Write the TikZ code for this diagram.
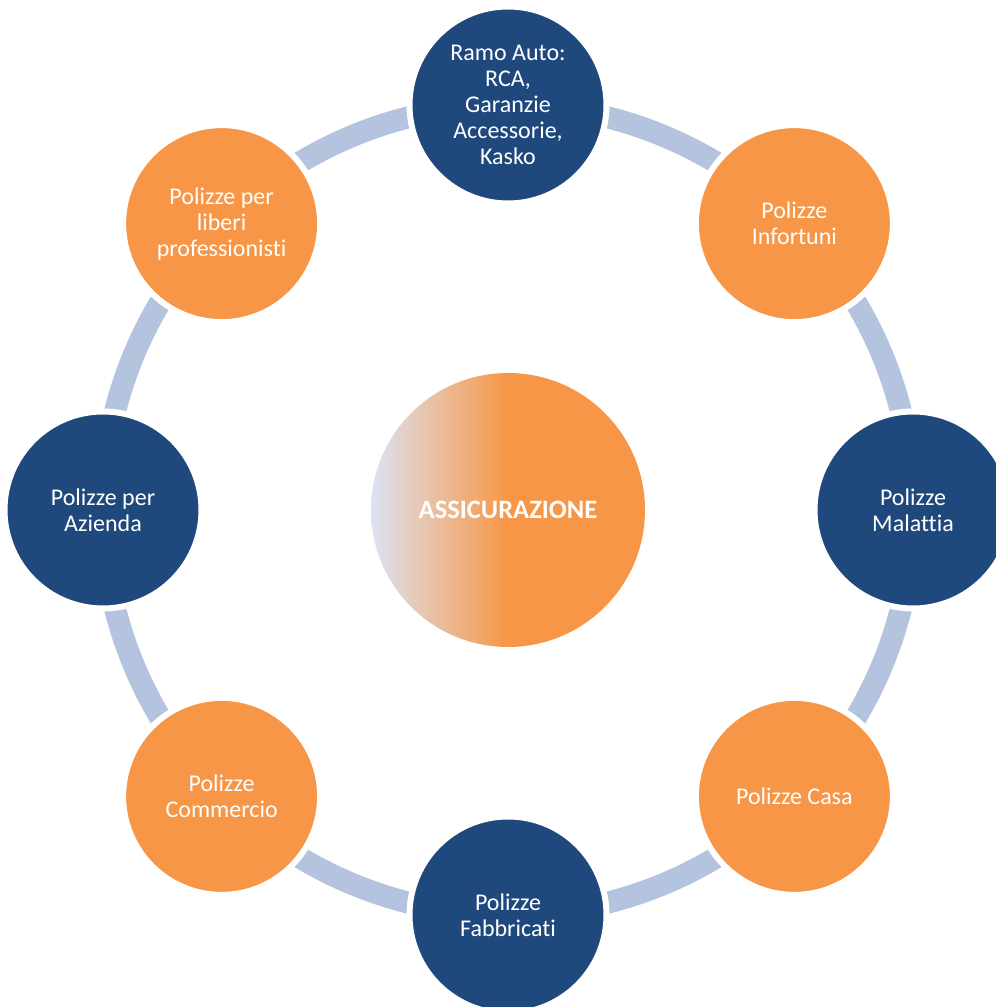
\documentclass[tikz,border=0pt]{standalone}
\usepackage{fontspec}
\setmainfont{Carlito}[Ligatures=NoCommon]
\usepackage{tikz}
\usetikzlibrary{calc}

\definecolor{ramoblue}{RGB}{31,73,125}
\definecolor{ramoorange}{RGB}{247,150,70}
\definecolor{ringblue}{RGB}{180,195,222}
\definecolor{ctrlav}{RGB}{220,227,242}
\pgfdeclarehorizontalshading{ctrshade}{100bp}{color(0bp)=(ctrlav); color(25bp)=(ctrlav); color(50bp)=(ramoorange); color(100bp)=(ramoorange)}

\begin{document}
\begin{tikzpicture}[x=1pt,y=1pt]%%ramo

                \tikzstyle{ramo}  = [circle, minimum size=197pt, inner sep=0pt, draw=white, line width=6pt, text=white, align=center, font=\fontsize{24}{26}\selectfont]
                \useasboundingbox (0,0) rectangle (996,1007);
                \coordinate (c) at (508,497);
                \draw [ringblue, line width=22pt] (c) circle (405);
                \node [circle, minimum size=274pt, inner sep=0pt, shade, shading=ctrshade, text=white, font=\fontsize{26.5}{30}\selectfont\bfseries](ctr) at (c) {ASSICURAZIONE};

                \foreach \a/\col/\txt [count=\i] in {90/ramoblue/{Ramo Auto:\\RCA,\\Garanzie\\Accessorie,\\Kasko},
                        45/ramoorange/{Polizze\\Infortuni},
                        0/ramoblue/{Polizze\\Malattia},
                        -45/ramoorange/{Polizze Casa},
                        -90/ramoblue/{Polizze\\Fabbricati},
                        -135/ramoorange/{Polizze\\Commercio},
                        180/ramoblue/{Polizze per\\Azienda},
                        135/ramoorange/{Polizze per\\liberi\\professionisti}}{
                        \node [ramo, fill=\col](p\i) at ($(c)+(\a:405)$) {\txt};
                }
\end{tikzpicture}
\end{document}
